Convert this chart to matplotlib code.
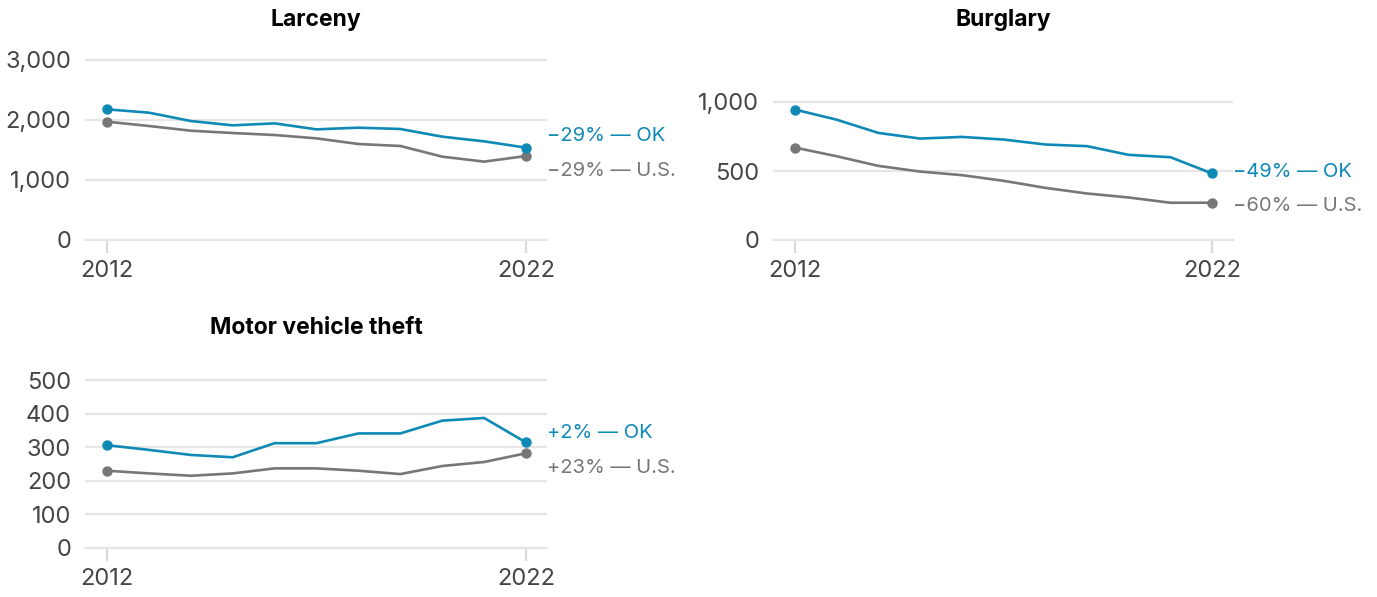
import matplotlib
matplotlib.use("Agg")
import matplotlib.pyplot as plt

plt.rcParams['font.family'] = ['Inter', 'DejaVu Sans']

years = list(range(2012, 2023))

larceny_ok = [2178, 2122, 1983, 1911, 1944, 1844, 1872, 1850, 1722, 1644, 1539]
larceny_us = [1972, 1900, 1822, 1783, 1750, 1694, 1600, 1567, 1389, 1306, 1400]
burglary_ok = [945, 872, 776, 735, 747, 728, 692, 680, 617, 600, 482]
burglary_us = [670, 607, 537, 496, 470, 429, 378, 337, 308, 270, 270]
mvt_ok = [306, 292, 277, 270, 312, 312, 341, 341, 379, 387, 314]
mvt_us = [230, 222, 215, 222, 237, 237, 230, 220, 244, 256, 282]

titles = ["Larceny", "Burglary", "Motor vehicle theft"]
yticks_list = [[0, 1000, 2000, 3000], [0, 500, 1000], [0, 100, 200, 300, 400, 500]]
ok_labels = ["−29% — OK", "−49% — OK", "+2% — OK"]
us_labels = ["−29% — U.S.", "−60% — U.S.", "+23% — U.S."]
xtick_years = [2012, 2022]

BLUE = "#0f8ab6"
GRAY = "#777777"
GRID = "#e6e6e6"
TXT = "#454545"

W, H = 1377, 597
fig = plt.figure(figsize=(W / 100, H / 100), dpi=100)

# panel layout in pixels: x_left, x_right, y of top tick, y of zero
layouts = [
    (85, 547, 60, 240),
    (773, 1233, 102, 240),
    (85, 547, 380, 548),
]
# label offsets in points (OK, US)
offsets = [((15, 8.5), (15, -11)), ((15, 1), (15, -2)), ((15, 7), (15, -10.5))]

data = [(larceny_ok, larceny_us), (burglary_ok, burglary_us), (mvt_ok, mvt_us)]

for i in range(3):
    x0, x1, ytop, ybot = layouts[i]
    ticks = yticks_list[i]
    vmax = ticks[-1]
    ppu = (ybot - ytop) / vmax
    ext = 6  # px above top gridline
    ax = fig.add_axes([x0 / W, 1 - ybot / H, (x1 - x0) / W, (ybot - ytop + ext) / H])
    ax.set_ylim(0, vmax + ext / ppu)
    ax.set_xlim(2011.475, 2022.5)
    for s in ['top', 'right', 'left']:
        ax.spines[s].set_visible(False)
    ax.spines['bottom'].set_color(GRID)
    ax.spines['bottom'].set_linewidth(1.6)
    ax.set_yticks(ticks)
    ax.set_yticklabels([f"{t:,}" for t in ticks])
    ax.grid(axis='y', color=GRID, linewidth=1.6)
    ax.set_axisbelow(True)
    ax.tick_params(axis='y', length=0, pad=10, labelsize=17, labelcolor=TXT)
    ax.set_xticks(xtick_years)
    ax.set_xticklabels([str(y) for y in xtick_years])
    ax.tick_params(axis='x', length=9.5, width=1.6, color="#dadada", pad=5,
                   labelsize=17, labelcolor=TXT)

    ok, us = data[i]
    ax.plot(years, us, color=GRAY, lw=1.9, clip_on=False, zorder=3, solid_capstyle='round')
    ax.plot(years, ok, color=BLUE, lw=1.9, clip_on=False, zorder=4, solid_capstyle='round')
    ax.plot([years[0], years[-1]], [us[0], us[-1]], 'o', color=GRAY, ms=6.5, clip_on=False, zorder=3)
    ax.plot([years[0], years[-1]], [ok[0], ok[-1]], 'o', color=BLUE, ms=6.5, clip_on=False, zorder=4)

    (ox, oy), (ux, uy) = offsets[i]
    ax.annotate(ok_labels[i], xy=(years[-1], ok[-1]), xytext=(ox, oy), textcoords='offset points',
                ha='left', va='center', fontsize=14.5, color=BLUE, annotation_clip=False)
    ax.annotate(us_labels[i], xy=(years[-1], us[-1]), xytext=(ux, uy), textcoords='offset points',
                ha='left', va='center', fontsize=14.5, color=GRAY, annotation_clip=False)

    tcy = 20 if i < 2 else 328
    fig.text((x0 + x1) / 2 / W, 1 - tcy / H, titles[i], ha='center', va='center',
             fontsize=16.5, fontweight='bold', color='black')

fig.savefig("out.png", dpi=100, facecolor='white')
